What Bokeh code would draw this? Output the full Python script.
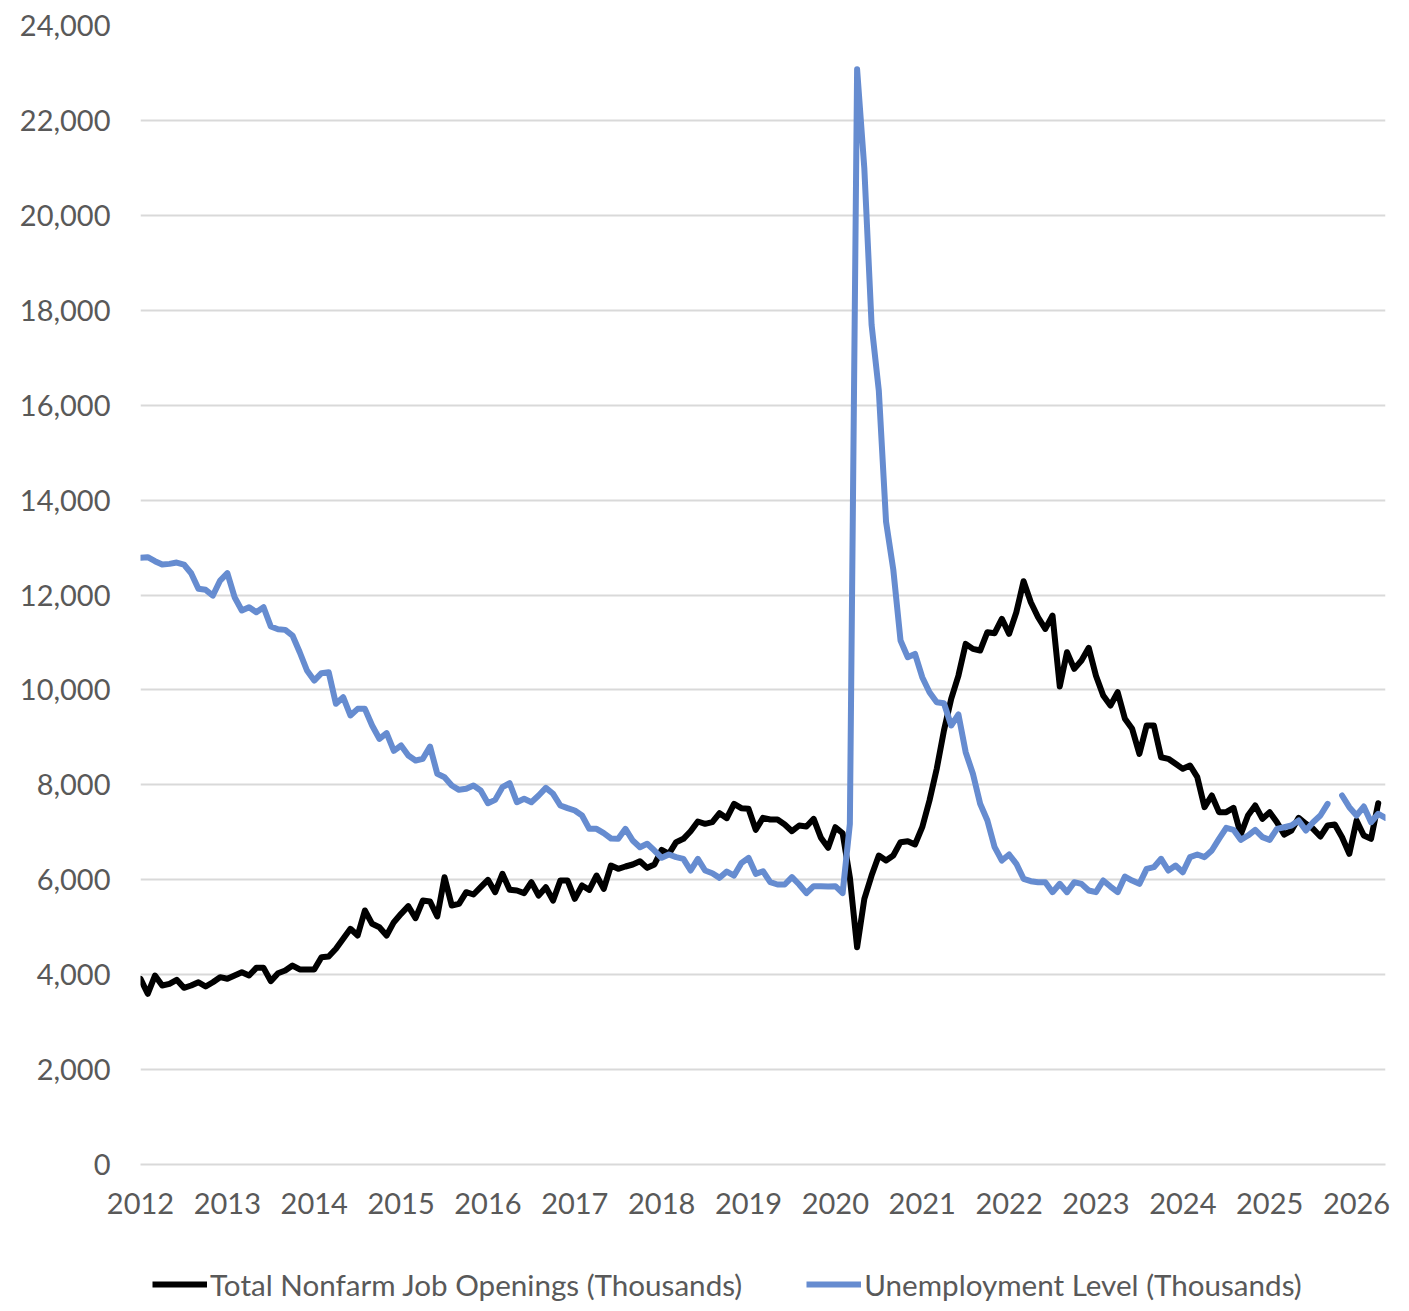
import math
from bokeh.plotting import figure
from bokeh.layouts import column
from bokeh.models import (Range1d, FixedTicker, NumeralTickFormatter, Legend,
                          LegendItem, ColumnDataSource)
from bokeh.embed import file_html
from bokeh.resources import INLINE

# ---------------- data (monthly, starting January 2012) ----------------
start_year = 2012
year_ticks = list(range(2012, 2027))
y_ticks = list(range(0, 24001, 2000))

job_openings = [
    # 2012
    3913, 3597, 3982, 3772, 3807, 3891, 3723, 3772, 3841, 3750, 3841, 3947,
    # 2013
    3913, 3982, 4052, 3982, 4144, 4144, 3863, 4031, 4088, 4193, 4109, 4109,
    # 2014
    4109, 4368, 4382, 4545, 4756, 4966, 4825, 5352, 5071, 5000, 4825, 5106,
    # 2015
    5282, 5443, 5190, 5562, 5541, 5226, 6054, 5457, 5493, 5738, 5689, 5843,
    # 2016
    5998, 5738, 6125, 5787, 5773, 5717, 5949, 5668, 5843, 5562, 5984, 5984,
    # 2017
    5598, 5879, 5787, 6089, 5809, 6300, 6230, 6279, 6321, 6391, 6251, 6321,
    # 2018
    6630, 6546, 6792, 6862, 7023, 7227, 7178, 7213, 7402, 7297, 7600, 7508,
    # 2019
    7494, 7052, 7305, 7269, 7269, 7164, 7023, 7143, 7122, 7284, 6884, 6673,
    # 2020
    7107, 6980, 6050, 4579, 5598, 6089, 6511, 6405, 6511, 6792, 6813, 6743,
    # 2021
    7107, 7670, 8337, 9145, 9811, 10303, 10970, 10865, 10830, 11216, 11195, 11498,
    # 2022
    11181, 11637, 12290, 11848, 11532, 11287, 11567, 10072, 10795, 10444, 10620, 10887,
    # 2023
    10300, 9882, 9671, 9952, 9391, 9180, 8653, 9250, 9250, 8582, 8548, 8443,
    # 2024
    8337, 8407, 8161, 7529, 7775, 7424, 7424, 7515, 6953, 7354, 7564, 7284,
    # 2025
    7424, 7213, 6953, 7037, 7305, 7178, 7073, 6911, 7143, 7164, 6897, 6546,
    # 2026
    7248, 6932, 6862, 7613,
]

unemployment = [
    # 2012
    12783, 12797, 12713, 12642, 12656, 12684, 12642, 12459, 12130, 12109, 11989, 12305,
    # 2013
    12459, 11953, 11673, 11743, 11637, 11743, 11336, 11279, 11265, 11146, 10794, 10409,
    # 2014
    10198, 10352, 10373, 9707, 9847, 9461, 9601, 9601, 9250, 8970, 9090, 8717,
    # 2015
    8829, 8618, 8512, 8548, 8807, 8232, 8161, 7986, 7895, 7916, 7986, 7880,
    # 2016
    7613, 7683, 7950, 8034, 7634, 7705, 7634, 7775, 7937, 7811, 7564, 7508,
    # 2017
    7459, 7354, 7073, 7073, 6981, 6870, 6862, 7073, 6827, 6686, 6757, 6616,
    # 2018
    6462, 6532, 6476, 6441, 6195, 6441, 6195, 6138, 6040, 6173, 6089, 6349,
    # 2019
    6462, 6125, 6180, 5949, 5900, 5900, 6054, 5900, 5717, 5864, 5864, 5857,
    # 2020
    5864, 5717, 7178, 23078, 20985, 17697, 16308, 13542, 12535, 11041, 10689, 10760,
    # 2021
    10268, 9952, 9741, 9720, 9250, 9482, 8688, 8232, 7600, 7248, 6686, 6405,
    # 2022
    6532, 6336, 6020, 5970, 5949, 5949, 5738, 5914, 5738, 5949, 5914, 5773,
    # 2023
    5738, 5984, 5857, 5738, 6068, 5984, 5914, 6230, 6265, 6441, 6195, 6300,
    # 2024
    6159, 6476, 6532, 6476, 6616, 6862, 7094, 7052, 6841, 6932, 7052, 6897,
    # 2025 (October missing)
    6841, 7073, 7107, 7143, 7248, 7037, 7213, 7354, 7600, None, 7775, 7529,
    # 2026
    7354, 7543, 7213, 7389, 7305,
]

series_names = ["Total Nonfarm Job Openings (Thousands)", "Unemployment Level (Thousands)"]

# ---------------- build ----------------
x_jobs = [start_year + i / 12 for i in range(len(job_openings))]
x_unemp = [start_year + i / 12 for i in range(len(unemployment))]
unemp_vals = [float("nan") if v is None else v for v in unemployment]

src_jobs = ColumnDataSource(dict(x=x_jobs, y=job_openings))
src_unemp = ColumnDataSource(dict(x=x_unemp, y=unemp_vals))

x_end = start_year + (len(unemployment) - 1) / 12

FONT = "Lato"
TXT = "#595959"
GRID = "#d9d9d9"
BLUE = "#668CD0"

p = figure(frame_width=1245, frame_height=1139,
           output_backend="svg", toolbar_location=None,
           x_range=Range1d(start_year, x_end), y_range=Range1d(0, 24000),
           min_border_left=140, min_border_right=16, min_border_top=25,
           min_border_bottom=90)

p.outline_line_color = None
p.background_fill_color = "white"
p.border_fill_color = "white"

r_jobs = p.line("x", "y", source=src_jobs, line_color="black", line_width=6,
                line_join="round", line_cap="round")
r_unemp = p.line("x", "y", source=src_unemp, line_color=BLUE, line_width=6,
                 line_join="round", line_cap="round")

# y axis
p.yaxis.ticker = FixedTicker(ticks=y_ticks)
p.yaxis.formatter = NumeralTickFormatter(format="0,0")
p.yaxis.axis_line_color = None
p.yaxis.major_tick_line_color = None
p.yaxis.minor_tick_line_color = None
p.yaxis.major_tick_out = 0
p.yaxis.major_tick_in = 0
p.yaxis.major_label_standoff = 30
p.yaxis.major_label_text_font = FONT
p.yaxis.major_label_text_font_size = "29px"
p.yaxis.major_label_text_color = TXT

# x axis
p.xaxis.ticker = FixedTicker(ticks=year_ticks)
p.xaxis.formatter = NumeralTickFormatter(format="0")
p.xaxis.axis_line_color = GRID
p.xaxis.axis_line_width = 2
p.xaxis.major_tick_line_color = None
p.xaxis.minor_tick_line_color = None
p.xaxis.major_tick_out = 0
p.xaxis.major_tick_in = 0
p.xaxis.major_label_standoff = 28
p.xaxis.major_label_text_font = FONT
p.xaxis.major_label_text_font_size = "29px"
p.xaxis.major_label_text_color = TXT

p.xgrid.grid_line_color = None
p.ygrid.ticker = FixedTicker(ticks=y_ticks)
p.ygrid.grid_line_color = GRID
p.ygrid.grid_line_width = 2

# ---------------- legend strip (separate figure below the chart) ----------------
lg = figure(frame_width=1245, frame_height=55,
            output_backend="svg", toolbar_location=None,
            x_axis_type=None, y_axis_type=None,
            min_border_left=140, min_border_right=16, min_border_top=0,
            min_border_bottom=0)
lg.outline_line_color = None
lg.background_fill_color = "white"
lg.border_fill_color = "white"
lg.xgrid.grid_line_color = None
lg.ygrid.grid_line_color = None

lr_jobs = lg.line("x", "y", source=src_jobs, line_color="black", line_width=6,
                  line_cap="butt", visible=False)
lr_unemp = lg.line("x", "y", source=src_unemp, line_color=BLUE, line_width=6,
                   line_cap="butt", visible=False)

legend = Legend(
    items=[LegendItem(label=series_names[0], renderers=[lr_jobs]),
           LegendItem(label=series_names[1], renderers=[lr_unemp])],
    orientation="horizontal", location=(12, 5),
    glyph_width=55, glyph_height=40, label_standoff=3, spacing=64,
    label_text_font=FONT, label_text_font_size="29.6px", label_text_color=TXT,
    border_line_color=None, background_fill_alpha=0, padding=0, margin=0,
)
lg.add_layout(legend, "center")

layout = column(p, lg, spacing=0)

open("out.html", "w").write(file_html(layout, INLINE))
